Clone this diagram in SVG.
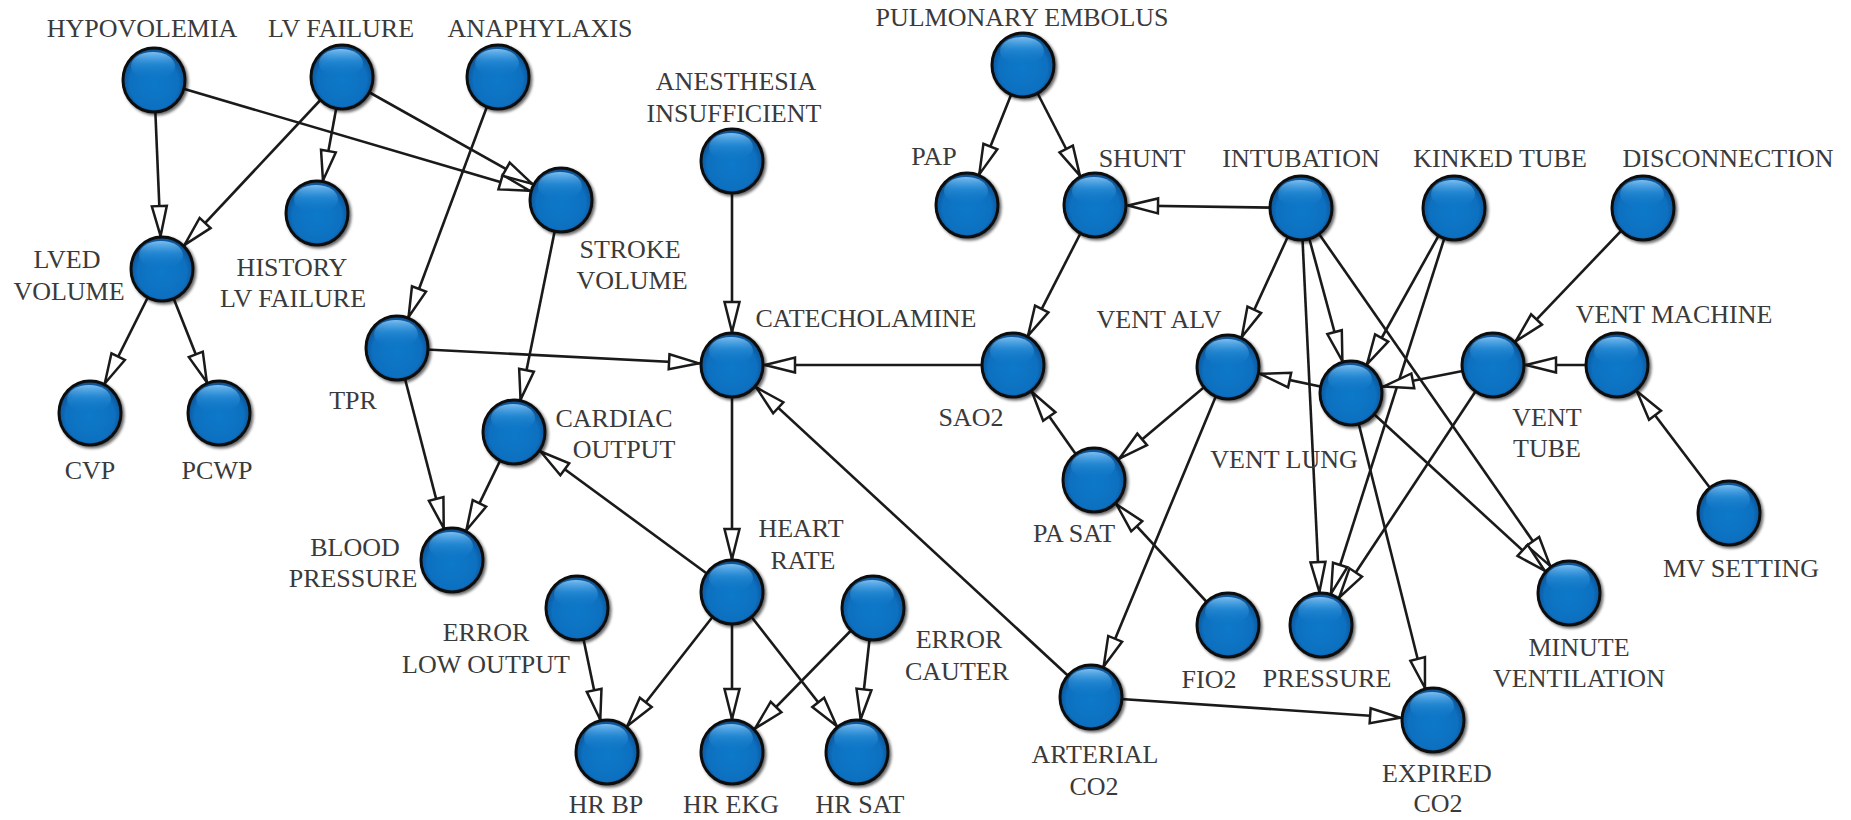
<svg xmlns="http://www.w3.org/2000/svg" width="1851" height="820" viewBox="0 0 1851 820">
<style>
.lbl{font-family:"Liberation Serif","Times New Roman",serif;font-size:26px;fill:#3a3a3a;text-anchor:middle}
.e{stroke:#1a1a1a;stroke-width:2.6;fill:none;marker-end:url(#ah)}
</style>
<defs>
<radialGradient id="gBody" cx="0.5" cy="0.55" r="0.55">
<stop offset="0" stop-color="#1079c9"/>
<stop offset="0.72" stop-color="#0c70c0"/>
<stop offset="1" stop-color="#064a88"/>
</radialGradient>
<linearGradient id="gHi" x1="0" y1="0" x2="0" y2="1">
<stop offset="0" stop-color="#8fd0ff" stop-opacity="0.85"/>
<stop offset="0.45" stop-color="#3c9fe4" stop-opacity="0.45"/>
<stop offset="1" stop-color="#1079c9" stop-opacity="0"/>
</linearGradient>
<filter id="sh" x="-30%" y="-30%" width="160%" height="160%">
<feGaussianBlur in="SourceAlpha" stdDeviation="1.6"/>
<feOffset dx="1.5" dy="1.5" result="b"/>
<feComponentTransfer><feFuncA type="linear" slope="0.6"/></feComponentTransfer>
<feMerge><feMergeNode/><feMergeNode in="SourceGraphic"/></feMerge>
</filter>
<marker id="ah" markerUnits="userSpaceOnUse" markerWidth="70" markerHeight="16" refX="64" refY="8" orient="auto" style="overflow:visible">
<path d="M1,0.5 L31,8 L1,15.5 Z" fill="#fff" stroke="#1a1a1a" stroke-width="2.5" stroke-linejoin="miter"/>
</marker>
<g id="ball">
<ellipse rx="31" ry="32" fill="url(#gBody)" stroke="#111" stroke-width="3" filter="url(#sh)"/>
<ellipse cx="-1" cy="-14" rx="22" ry="14" fill="url(#gHi)"/>
</g>
</defs>
<rect width="1851" height="820" fill="#fff"/>
<g id="connectors">
<line class="e" x1="154" y1="80" x2="162" y2="269"/>
<line class="e" x1="154" y1="80" x2="561" y2="200"/>
<line class="e" x1="342" y1="77" x2="162" y2="269"/>
<line class="e" x1="342" y1="77" x2="317" y2="213"/>
<line class="e" x1="342" y1="77" x2="561" y2="200"/>
<line class="e" x1="498" y1="77" x2="397" y2="348"/>
<line class="e" x1="162" y1="269" x2="90" y2="413"/>
<line class="e" x1="162" y1="269" x2="219" y2="413"/>
<line class="e" x1="561" y1="200" x2="514" y2="432"/>
<line class="e" x1="397" y1="348" x2="732" y2="365"/>
<line class="e" x1="397" y1="348" x2="452" y2="560"/>
<line class="e" x1="514" y1="432" x2="452" y2="560"/>
<line class="e" x1="732" y1="161" x2="732" y2="365"/>
<line class="e" x1="1013" y1="365" x2="732" y2="365"/>
<line class="e" x1="1091" y1="697" x2="732" y2="365"/>
<line class="e" x1="732" y1="365" x2="732" y2="592"/>
<line class="e" x1="732" y1="592" x2="514" y2="432"/>
<line class="e" x1="732" y1="592" x2="607" y2="752"/>
<line class="e" x1="732" y1="592" x2="732" y2="752"/>
<line class="e" x1="732" y1="592" x2="857" y2="752"/>
<line class="e" x1="577" y1="608" x2="607" y2="752"/>
<line class="e" x1="873" y1="608" x2="732" y2="752"/>
<line class="e" x1="873" y1="608" x2="857" y2="752"/>
<line class="e" x1="1023" y1="65" x2="967" y2="205"/>
<line class="e" x1="1023" y1="65" x2="1095" y2="205"/>
<line class="e" x1="1301" y1="208" x2="1095" y2="205"/>
<line class="e" x1="1095" y1="205" x2="1013" y2="365"/>
<line class="e" x1="1094" y1="480" x2="1013" y2="365"/>
<line class="e" x1="1228" y1="625" x2="1094" y2="480"/>
<line class="e" x1="1228" y1="367" x2="1094" y2="480"/>
<line class="e" x1="1228" y1="367" x2="1091" y2="697"/>
<line class="e" x1="1301" y1="208" x2="1228" y2="367"/>
<line class="e" x1="1301" y1="208" x2="1351" y2="393"/>
<line class="e" x1="1301" y1="208" x2="1321" y2="625"/>
<line class="e" x1="1301" y1="208" x2="1569" y2="593"/>
<line class="e" x1="1454" y1="208" x2="1351" y2="393"/>
<line class="e" x1="1454" y1="208" x2="1321" y2="625"/>
<line class="e" x1="1643" y1="208" x2="1493" y2="365"/>
<line class="e" x1="1617" y1="365" x2="1493" y2="365"/>
<line class="e" x1="1729" y1="513" x2="1617" y2="365"/>
<line class="e" x1="1493" y1="365" x2="1351" y2="393"/>
<line class="e" x1="1493" y1="365" x2="1321" y2="625"/>
<line class="e" x1="1351" y1="393" x2="1228" y2="367"/>
<line class="e" x1="1351" y1="393" x2="1433" y2="720"/>
<line class="e" x1="1351" y1="393" x2="1569" y2="593"/>
<line class="e" x1="1091" y1="697" x2="1433" y2="720"/>
</g>
<g id="n-hypovolemia"><use href="#ball" x="154" y="80"/><text class="lbl" x="142" y="37">HYPOVOLEMIA</text></g>
<g id="n-lv-failure"><use href="#ball" x="342" y="77"/><text class="lbl" x="341" y="37">LV FAILURE</text></g>
<g id="n-anaphylaxis"><use href="#ball" x="498" y="77"/><text class="lbl" x="540" y="37">ANAPHYLAXIS</text></g>
<g id="n-pulmonary-embolus"><use href="#ball" x="1023" y="65"/><text class="lbl" x="1022" y="26">PULMONARY EMBOLUS</text></g>
<g id="n-anesthesia"><use href="#ball" x="732" y="161"/><text class="lbl" x="736" y="90">ANESTHESIA</text><text class="lbl" x="734" y="122">INSUFFICIENT</text></g>
<g id="n-pap"><use href="#ball" x="967" y="205"/><text class="lbl" x="934" y="165">PAP</text></g>
<g id="n-shunt"><use href="#ball" x="1095" y="205"/><text class="lbl" x="1142" y="167">SHUNT</text></g>
<g id="n-intubation"><use href="#ball" x="1301" y="208"/><text class="lbl" x="1301" y="167">INTUBATION</text></g>
<g id="n-kinked-tube"><use href="#ball" x="1454" y="208"/><text class="lbl" x="1500" y="167">KINKED TUBE</text></g>
<g id="n-disconnection"><use href="#ball" x="1643" y="208"/><text class="lbl" x="1728" y="167">DISCONNECTION</text></g>
<g id="n-stroke-volume"><use href="#ball" x="561" y="200"/><text class="lbl" x="630" y="258">STROKE</text><text class="lbl" x="632" y="289">VOLUME</text></g>
<g id="n-history-lv-failure"><use href="#ball" x="317" y="213"/><text class="lbl" x="292" y="276">HISTORY</text><text class="lbl" x="293" y="307">LV FAILURE</text></g>
<g id="n-lved-volume"><use href="#ball" x="162" y="269"/><text class="lbl" x="67" y="268">LVED</text><text class="lbl" x="69" y="300">VOLUME</text></g>
<g id="n-tpr"><use href="#ball" x="397" y="348"/><text class="lbl" x="353" y="409">TPR</text></g>
<g id="n-catecholamine"><use href="#ball" x="732" y="365"/><text class="lbl" x="866" y="327">CATECHOLAMINE</text></g>
<g id="n-sao2"><use href="#ball" x="1013" y="365"/><text class="lbl" x="971" y="426">SAO2</text></g>
<g id="n-vent-alv"><use href="#ball" x="1228" y="367"/><text class="lbl" x="1159" y="328">VENT ALV</text></g>
<g id="n-vent-lung"><use href="#ball" x="1351" y="393"/><text class="lbl" x="1284" y="468">VENT LUNG</text></g>
<g id="n-vent-tube"><use href="#ball" x="1493" y="365"/><text class="lbl" x="1547" y="426">VENT</text><text class="lbl" x="1547" y="457">TUBE</text></g>
<g id="n-vent-machine"><use href="#ball" x="1617" y="365"/><text class="lbl" x="1674" y="323">VENT MACHINE</text></g>
<g id="n-cvp"><use href="#ball" x="90" y="413"/><text class="lbl" x="90" y="479">CVP</text></g>
<g id="n-pcwp"><use href="#ball" x="219" y="413"/><text class="lbl" x="217" y="479">PCWP</text></g>
<g id="n-cardiac-output"><use href="#ball" x="514" y="432"/><text class="lbl" x="614" y="427">CARDIAC</text><text class="lbl" x="624" y="458">OUTPUT</text></g>
<g id="n-pa-sat"><use href="#ball" x="1094" y="480"/><text class="lbl" x="1074" y="542">PA SAT</text></g>
<g id="n-mv-setting"><use href="#ball" x="1729" y="513"/><text class="lbl" x="1741" y="577">MV SETTING</text></g>
<g id="n-blood-pressure"><use href="#ball" x="452" y="560"/><text class="lbl" x="355" y="556">BLOOD</text><text class="lbl" x="353" y="587">PRESSURE</text></g>
<g id="n-heart-rate"><use href="#ball" x="732" y="592"/><text class="lbl" x="801" y="537">HEART</text><text class="lbl" x="803" y="569">RATE</text></g>
<g id="n-error-low-output"><use href="#ball" x="577" y="608"/><text class="lbl" x="486" y="641">ERROR</text><text class="lbl" x="486" y="673">LOW OUTPUT</text></g>
<g id="n-error-cauter"><use href="#ball" x="873" y="608"/><text class="lbl" x="959" y="648">ERROR</text><text class="lbl" x="957" y="680">CAUTER</text></g>
<g id="n-fio2"><use href="#ball" x="1228" y="625"/><text class="lbl" x="1209" y="688">FIO2</text></g>
<g id="n-pressure"><use href="#ball" x="1321" y="625"/><text class="lbl" x="1327" y="687">PRESSURE</text></g>
<g id="n-minute-ventilation"><use href="#ball" x="1569" y="593"/><text class="lbl" x="1579" y="656">MINUTE</text><text class="lbl" x="1579" y="687">VENTILATION</text></g>
<g id="n-arterial-co2"><use href="#ball" x="1091" y="697"/><text class="lbl" x="1095" y="763">ARTERIAL</text><text class="lbl" x="1094" y="795">CO2</text></g>
<g id="n-expired-co2"><use href="#ball" x="1433" y="720"/><text class="lbl" x="1437" y="782">EXPIRED</text><text class="lbl" x="1438" y="812">CO2</text></g>
<g id="n-hr-bp"><use href="#ball" x="607" y="752"/><text class="lbl" x="606" y="813">HR BP</text></g>
<g id="n-hr-ekg"><use href="#ball" x="732" y="752"/><text class="lbl" x="731" y="813">HR EKG</text></g>
<g id="n-hr-sat"><use href="#ball" x="857" y="752"/><text class="lbl" x="860" y="813">HR SAT</text></g>
</svg>
